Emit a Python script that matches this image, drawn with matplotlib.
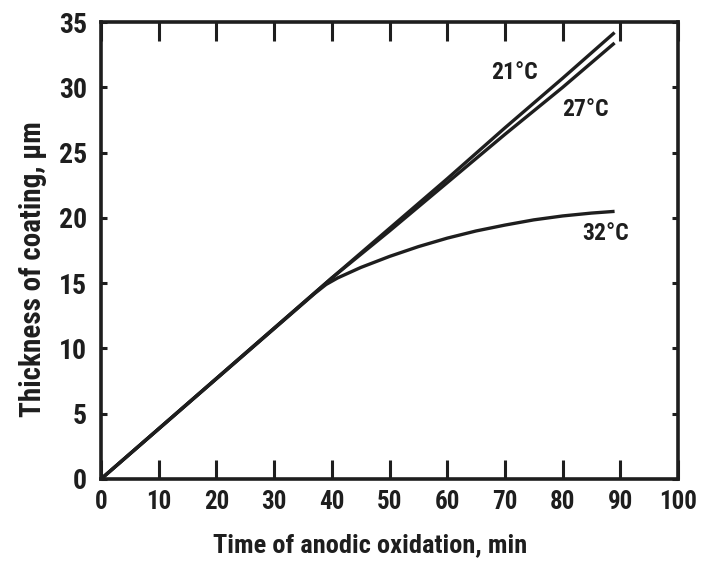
import matplotlib
matplotlib.use("Agg")
import matplotlib.pyplot as plt
from matplotlib import font_manager

# ---- data ----
time_21 = [0, 40, 50, 60, 70, 80, 89]
thick_21 = [0, 15.4, 19.2, 23.0, 26.9, 30.7, 34.2]
time_27 = [0, 40, 50, 60, 70, 80, 89]
thick_27 = [0, 15.4, 19.0, 22.7, 26.4, 30.0, 33.4]
time_32 = [0, 37, 39, 41, 43, 45, 50, 55, 60, 65, 70, 75, 80, 85, 89]
thick_32 = [0, 14.2, 14.9, 15.4, 15.8, 16.2, 17.05, 17.8, 18.45, 19.0, 19.45, 19.85, 20.15, 20.37, 20.5]
labels = ["21°C", "27°C", "32°C"]
label_x = [71.6, 83.9, 87.5]
label_y = [31.1, 28.3, 18.8]
xticks = [0, 10, 20, 30, 40, 50, 60, 70, 80, 90, 100]
yticks = [0, 5, 10, 15, 20, 25, 30, 35]

avail = {f.name for f in font_manager.fontManager.ttflist}
family = "DejaVu Sans"
for cand in ["Roboto Condensed", "Liberation Sans Narrow", "DejaVu Sans Condensed", "Open Sans Condensed"]:
    if cand in avail:
        family = cand
        break
plt.rcParams['font.family'] = [family, 'DejaVu Sans']

ink = "#1e1e1e"
fig = plt.figure(figsize=(7.08, 5.62), dpi=100)
ax = fig.add_axes([0.1427, 0.1477, 0.815, 0.813])

for tx, ty in [(time_21, thick_21), (time_27, thick_27), (time_32, thick_32)]:
    ax.plot(tx, ty, color=ink, lw=2.4, solid_capstyle='butt', solid_joinstyle='round')

for t, x, y in zip(labels, label_x, label_y):
    ax.text(x, y, t, fontsize=17, fontweight='bold', color=ink, ha='center', va='center')

ax.set_xlim(0, 100)
ax.set_ylim(0, 35)
ax.set_xticks(xticks)
ax.set_yticks(yticks)
ax.tick_params(axis='x', direction='in', length=14, width=2.2, colors=ink,
               labelsize=18, pad=8, top=True)
ax.tick_params(axis='y', direction='in', length=4, width=2.2, colors=ink,
               labelsize=20, pad=10, right=True)
for lab in ax.get_xticklabels() + ax.get_yticklabels():
    lab.set_fontweight('bold')
for s in ax.spines.values():
    s.set_linewidth(2.6)
    s.set_color(ink)

ax.set_xlabel("Time of anodic oxidation, min", fontsize=19, fontweight='bold', color=ink)
ax.set_ylabel("Thickness of coating, μm", fontsize=21, fontweight='bold', color=ink)
ax.xaxis.set_label_coords(0.466, -0.118)
ax.yaxis.set_label_coords(-0.094, 0.46)

fig.savefig("out.png", dpi=100, facecolor='white')
